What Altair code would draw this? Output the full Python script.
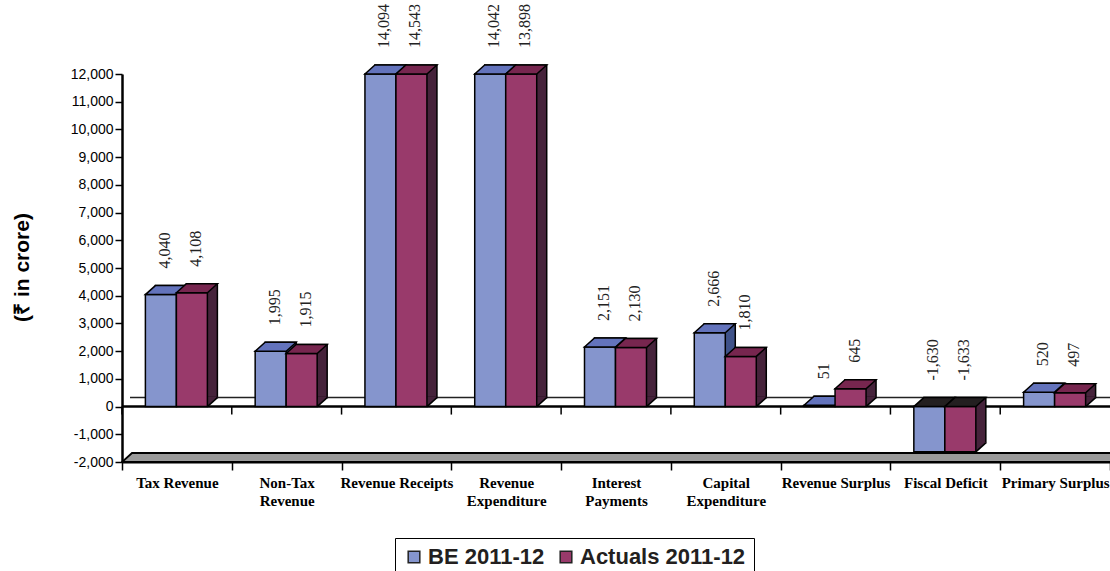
import altair as alt
import pandas as pd

# ---- data ----
category_lines = [
    ["Tax Revenue"],
    ["Non-Tax", "Revenue"],
    ["Revenue Receipts"],
    ["Revenue", "Expenditure"],
    ["Interest", "Payments"],
    ["Capital", "Expenditure"],
    ["Revenue Surplus"],
    ["Fiscal Deficit"],
    ["Primary Surplus"],
]
categories = [" ".join(l) for l in category_lines]
series_names = ["BE 2011-12", "Actuals 2011-12"]
be_values = [4040, 1995, 14094, 14042, 2151, 2666, 51, -1630, 520]
actual_values = [4108, 1915, 14543, 13898, 2130, 1810, 645, -1633, 497]
y_ticks = [-2000, -1000, 0, 1000, 2000, 3000, 4000, 5000, 6000, 7000,
           8000, 9000, 10000, 11000, 12000]
y_min, y_max = -2000, 12000

front_colors = ["#8595CD", "#993A6B"]
top_colors = ["#6373BC", "#77264F"]
side_colors = ["#3F5289", "#46233B"]
neg_top = "#231F20"

rows = []
for c, b, a in zip(categories, be_values, actual_values):
    rows.append({"category": c, "series": series_names[0], "v": b})
    rows.append({"category": c, "series": series_names[1], "v": a})
df = pd.DataFrame(rows)

DX, DY = 10, -9          # 3-D depth in pixels
W, H = 988, 388
BAR_W = 31
SHIFT = [-16, 15]        # pixel shift of each series' front face from band centre
HW = BAR_W / 2

# custom symbol paths (size=4 -> path units are pixels)
top_path = "M%g,0L%g,0L%g,%gL%g,%gZ" % (-HW, HW, HW + DX, DY, -HW + DX, DY)
tri_path = "M0,0L%g,%gL0,%gZ" % (DX + 0.8, DY - 0.8, DY - 0.8)
diag_path = "M0,0L%g,%g" % (DX, DY)
floor_path = "M0,0L%g,0L%g,%gL%g,%gZ" % (W + 200, W + 200, DY, DX, DY)

label_expr = ""
for lines in category_lines:
    if len(lines) > 1:
        arr = "[" + ",".join("'" + s + "'" for s in lines) + "]"
        label_expr += "datum.label == '" + " ".join(lines) + "' ? " + arr + " : "
label_expr += "datum.label"

x_axis = alt.Axis(
    title=None,
    labelExpr=label_expr,
    labelAngle=0,
    labelFont="Liberation Serif",
    labelFontWeight="bold",
    labelFontSize=15,
    labelColor="black",
    labelLineHeight=18,
    labelPadding=5,
    labelBaseline="top",
    labelOverlap=False,
    tickBand="extent",
    tickSize=8,
    tickColor="black",
    tickWidth=1.5,
    domainColor="black",
    domainWidth=2,
)
x_scale = alt.Scale(domain=categories, paddingInner=0, paddingOuter=0)
y_scale = alt.Scale(domain=[y_min, y_max], clamp=True, nice=False, zero=False)

y_axis = alt.Axis(
    title="(₹ in crore)",
    values=y_ticks,
    labelExpr="(datum.value < 0 ? '-' : '') + format(abs(datum.value), ',')",
    labelOverlap=False,
    labelFont="Liberation Sans",
    labelFontSize=14,
    labelColor="black",
    tickSize=7,
    tickColor="black",
    tickWidth=1.5,
    domainColor="black",
    domainWidth=2.5,
    grid=False,
    titleFont="Liberation Sans",
    titleFontWeight="bold",
    titleFontSize=21,
    titleColor="black",
    titleAngle=270,
    titleX=-100,
    titleY=H / 2 - 1,
    titleAlign="center",
    titleBaseline="middle",
)


def X(band_pos=None):
    if band_pos is None:
        return alt.X("category:N", sort=categories, scale=x_scale, axis=x_axis)
    return alt.X("category:N", sort=categories, scale=x_scale, axis=x_axis,
                 bandPosition=band_pos)


def Y(field):
    return alt.Y(field, scale=y_scale, axis=y_axis)


base = alt.Chart(df).transform_calculate(
    yc="min(datum.v, %d)" % y_max
).transform_calculate(
    ytop="max(datum.yc, 0)",
    ybot="min(datum.yc, 0)",
    zero="0",
    fy=str(y_min),
    lab="(datum.v < 0 ? '-' : '') + format(abs(datum.v), ',')",
)
first_only = "datum.series == '%s' && datum.category == '%s'" % (series_names[0], categories[0])

# floor (at -2,000) and zero planes
floor = base.transform_filter(first_only).mark_point(
    shape=floor_path, size=4, filled=True, fill="#9A9A9A", stroke="black",
    strokeWidth=1.8, opacity=1,
).encode(x=alt.value(0), y=Y("fy:Q"))

zero_back = base.transform_filter(first_only).mark_rule(
    color="#222222", strokeWidth=1.6, yOffset=DY
).encode(y=Y("zero:Q"), x=alt.value(DX - 2), x2=alt.value(W))

zero_front = base.transform_filter(first_only).mark_rule(
    color="black", strokeWidth=2.5
).encode(y=Y("zero:Q"), x=alt.value(0), x2=alt.value(W))

zero_ticks = base.transform_filter(alt.datum.series == series_names[0]).mark_rule(
    color="black", strokeWidth=1.5, y2Offset=8
).encode(x=X(0), y=Y("zero:Q"), y2="zero:Q")

layers = [floor, zero_back, zero_front, zero_ticks]

for i, s in enumerate(series_names):
    sb = base.transform_filter(alt.datum.series == s)
    side = sb.mark_bar(
        color=side_colors[i], stroke="black", strokeWidth=1.5, width=BAR_W,
        xOffset=SHIFT[i] + DX, yOffset=DY, y2Offset=DY,
    ).encode(x=X(), y=Y("yc:Q"), y2="zero:Q")
    tri = sb.mark_point(
        shape=tri_path, size=4, filled=True, fill=side_colors[i], strokeWidth=0,
        opacity=1, xOffset=SHIFT[i] + HW,
    ).encode(x=X(), y=Y("ybot:Q"))
    diag = sb.mark_point(
        shape=diag_path, size=4, filled=False, stroke="black", strokeWidth=1.5,
        opacity=1, xOffset=SHIFT[i] + HW,
    ).encode(x=X(), y=Y("ybot:Q"))
    front = sb.mark_bar(
        stroke="black", strokeWidth=1.5, width=BAR_W, xOffset=SHIFT[i],
    ).encode(
        x=X(), y=Y("yc:Q"), y2="zero:Q",
        color=alt.Color(
            "series:N",
            scale=alt.Scale(domain=series_names, range=front_colors),
            legend=alt.Legend(
                orient="none", legendX=273, legendY=464, direction="horizontal",
                title=None, symbolType="square", symbolSize=135,
                symbolStrokeColor="#222222", symbolStrokeWidth=1.5,
                labelFont="Liberation Sans", labelFontWeight="bold",
                labelFontSize=22, labelColor="#231F20", labelLimit=400,
                strokeColor="black", padding=8, columnPadding=10,
                labelOffset=3,
            ),
        ),
    )
    top = sb.mark_point(
        shape=top_path, size=4, filled=True, stroke="black", strokeWidth=1.5,
        opacity=1, xOffset=SHIFT[i],
    ).encode(
        x=X(), y=Y("ytop:Q"),
        fill=alt.condition("datum.v < 0", alt.value(neg_top), alt.value(top_colors[i])),
    )
    label = sb.mark_text(
        angle=270, align="left", baseline="middle", dx=26, xOffset=SHIFT[i] + 4,
        font="Liberation Serif", fontSize=16, color="#222222",
    ).encode(x=X(), y=Y("ytop:Q"), text="lab:N")
    layers += [side, tri, diag, front, top, label]

chart = alt.layer(*layers).properties(
    width=W, height=H,
    autosize=alt.AutoSizeParams(type="none"),
    padding={"left": 122, "top": 74, "right": 0, "bottom": 109},
    background="white",
).configure_view(stroke=None)

chart.save("out.html", embed_options={"renderer": "svg", "actions": False})
